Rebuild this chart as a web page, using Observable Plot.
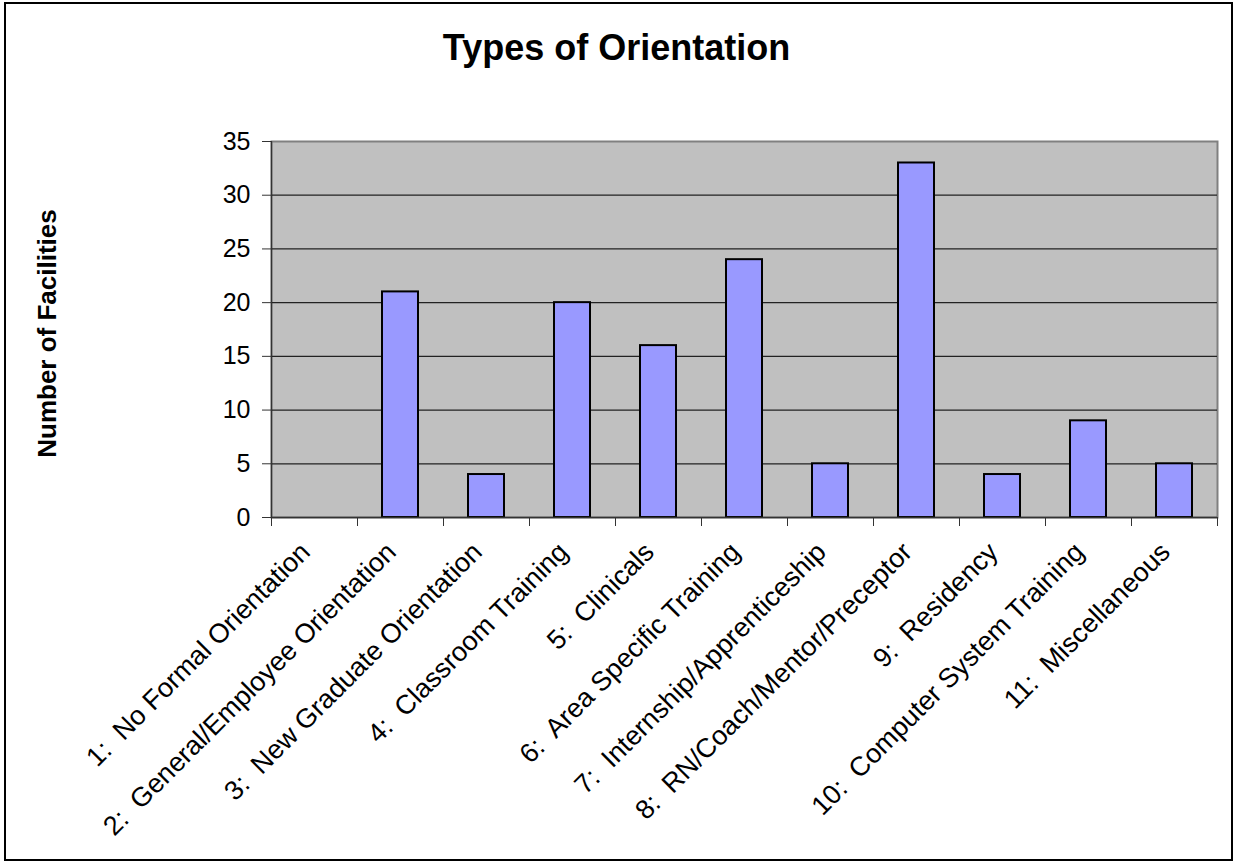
<!DOCTYPE html>
<html>
<head>
<meta charset="utf-8">
<script src="https://cdn.jsdelivr.net/npm/d3@7"></script>
<script src="https://cdn.jsdelivr.net/npm/@observablehq/plot@0.6"></script>
<style>
  html, body { margin: 0; padding: 0; background: #fff; }
  #wrap { position: relative; width: 1233px; height: 861px; overflow: hidden; }
  #border { position: absolute; left: 4px; top: 2px; width: 1225px; height: 855px; border: 2px solid #000; pointer-events: none; }
  #title { position: absolute; left: 0; width: 1233px; top: 28px; text-align: center; font-family: "Liberation Sans", Arial, sans-serif; font-weight: bold; font-size: 36px; line-height: 40px; color: #000; }
  #chart { position: absolute; left: 0; top: 0; }
</style>
</head>
<body>
<div id="wrap">
  <div id="chart"></div>
  <div id="title">Types of Orientation</div>
  <div id="border"></div>
</div>
<script>
const categories = [
  "1:  No Formal Orientation",
  "2:  General/Employee Orientation",
  "3:  New Graduate Orientation",
  "4:  Classroom Training",
  "5:  Clinicals",
  "6:  Area Specific Training",
  "7:  Internship/Apprenticeship",
  "8:  RN/Coach/Mentor/Preceptor",
  "9:  Residency",
  "10:  Computer System Training",
  "11:  Miscellaneous"
];
const values = [0, 21, 4, 20, 16, 24, 5, 33, 4, 9, 5];
const yTicks = [0, 5, 10, 15, 20, 25, 30, 35];
const yLabel = "Number of Facilities";

const data = categories.map((c, i) => ({ i, category: c, value: values[i] }));
const boundaries = d3.range(categories.length + 1);

const chart = Plot.plot({
  width: 1233,
  height: 861,
  marginLeft: 271,
  marginRight: 16,
  marginTop: 141,
  marginBottom: 344,
  style: { fontFamily: "'Liberation Sans', Arial, sans-serif", fontSize: "25px", background: "transparent", color: "#000" },
  x: { domain: [0, categories.length], axis: null },
  y: { domain: [0, 35], axis: null },
  marks: [
    Plot.frame({ fill: "#C0C0C0", stroke: "#808080", strokeWidth: 2 }),
    Plot.ruleY(yTicks.filter(t => t > 0 && t < 35), { stroke: "#222", strokeWidth: 1.3 }),
    Plot.rectY(data.filter(d => d.value > 0), {
      x1: "i", x2: d => d.i + 1, y: "value",
      insetLeft: 25, insetRight: 25,
      fill: "#9999FF", stroke: "#000", strokeWidth: 2
    }),
    Plot.ruleX([0], { stroke: "#333", strokeWidth: 1.3 }),
    Plot.ruleY([0], { stroke: "#333", strokeWidth: 1.3 }),
    Plot.axisY({ ticks: yTicks, tickSize: 9, tickPadding: 12, tickFormat: d => String(d), label: null, stroke: "#333", fontSize: 25 }),
    Plot.axisX({ ticks: boundaries, tickSize: 9, tickFormat: () => "", label: null, stroke: "#333" }),
    Plot.text(data, {
      x: d => d.i + 0.5, text: "category", frameAnchor: "bottom",
      rotate: -45, textAnchor: "end", lineAnchor: "middle",
      dx: -9, dy: 30, fontSize: 27, fill: "#000"
    }),
    Plot.text([yLabel], {
      frameAnchor: "left", text: d => d, rotate: -90, dx: -224, dy: 4,
      textAnchor: "middle", lineAnchor: "middle",
      fontSize: 26, fontWeight: "bold", fill: "#000"
    })
  ]
});
document.getElementById("chart").appendChild(chart);
</script>
</body>
</html>
